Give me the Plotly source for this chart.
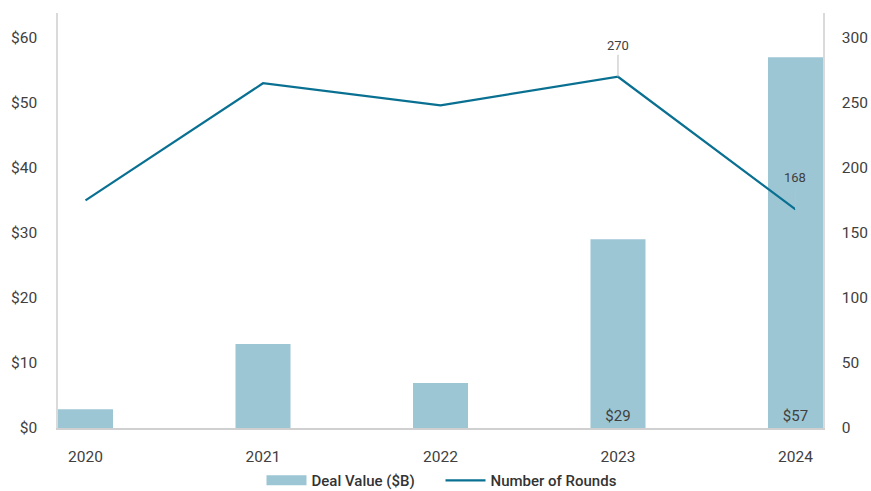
import plotly.graph_objects as go

# Data
years = ["2020", "2021", "2022", "2023", "2024"]
deal_value = [2.9, 12.9, 6.9, 29, 57]          # $B
num_rounds = [175, 265, 248, 270, 168]
bar_labels = ["", "", "", "$29", "$57"]
labelled_rounds = [3, 4]                        # points carrying a callout
left_ticks = [0, 10, 20, 30, 40, 50, 60]
left_ticktext = ["$0", "$10", "$20", "$30", "$40", "$50", "$60"]
right_ticks = [0, 50, 100, 150, 200, 250, 300]

BAR_COLOR = "#9dc6d4"
LINE_COLOR = "#0a7092"
TEXT_COLOR = "#404040"
FONT = "Roboto, Arial, sans-serif"
TICK_SIZE = 15.5

fig = go.Figure()

fig.add_trace(go.Bar(
    x=years, y=deal_value, name="Deal Value ($B)",
    marker=dict(color=BAR_COLOR, line=dict(width=0)),
    text=bar_labels, textposition="inside", insidetextanchor="start",
    textfont=dict(family=FONT, size=15, color=TEXT_COLOR),
    textangle=0, showlegend=False, hoverinfo="skip",
))

# wide swatch for the bar series in the legend
fig.add_trace(go.Scatter(
    x=[None], y=[None], mode="lines", name="Deal Value ($B)",
    line=dict(color=BAR_COLOR, width=10),
))

fig.add_trace(go.Scatter(
    x=years, y=num_rounds, name="Number of Rounds", mode="lines",
    line=dict(color=LINE_COLOR, width=2.2), yaxis="y2",
))

# callouts: category axes place annotations by category index
for i in labelled_rounds:
    fig.add_annotation(
        x=i, y=num_rounds[i], xref="x", yref="y2",
        text=str(num_rounds[i]), showarrow=True, arrowhead=0,
        arrowwidth=1, arrowcolor="#bdbdbd", ax=0, ay=-22,
        standoff=0, yanchor="bottom",
        font=dict(family=FONT, size=13, color=TEXT_COLOR),
    )

fig.update_layout(
    width=871, height=491,
    margin=dict(l=58, r=48, t=13, b=63, autoexpand=False),
    paper_bgcolor="white", plot_bgcolor="white",
    font=dict(family=FONT, size=TICK_SIZE, color=TEXT_COLOR),
    bargap=0.69,
    xaxis=dict(
        type="category", range=[-0.155, 4.155],
        showline=True, linecolor="#d0d0d0", linewidth=1.5,
        showgrid=False, ticks="", ticklabelstandoff=14,
        tickfont=dict(size=TICK_SIZE, color=TEXT_COLOR),
    ),
    yaxis=dict(
        range=[0, 63.8], tickvals=left_ticks, ticktext=left_ticktext,
        showgrid=False, zeroline=False, showline=True,
        linecolor="#dadada", linewidth=1.5, ticks="",
        ticklabelstandoff=16, tickfont=dict(size=TICK_SIZE, color=TEXT_COLOR),
    ),
    yaxis2=dict(
        range=[0, 319], tickvals=right_ticks, overlaying="y", side="right",
        showgrid=False, zeroline=False, showline=True,
        linecolor="#dadada", linewidth=1.5, ticks="",
        ticklabelstandoff=14, tickfont=dict(size=TICK_SIZE, color=TEXT_COLOR),
    ),
    legend=dict(
        orientation="h", x=0.5, xanchor="center", y=-0.087, yanchor="top",
        font=dict(family=FONT, size=15, color="#333333", weight=500),
        itemwidth=40, tracegroupgap=0, entrywidth=124, entrywidthmode="pixels",
    ),
)

fig.write_html("out.html")
